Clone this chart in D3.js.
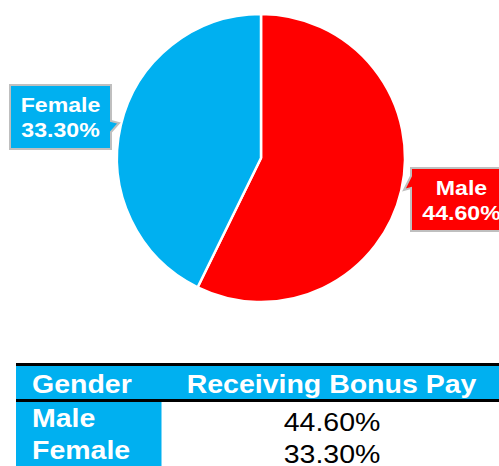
<!DOCTYPE html>
<html>
<head>
<meta charset="utf-8">
<script src="https://cdn.jsdelivr.net/npm/d3@7"></script>
<style>
  html, body { margin: 0; padding: 0; background: #fff; }
  svg { display: block; font-family: "Liberation Sans", Arial, sans-serif; }
</style>
</head>
<body>
<div id="chart"></div>
<script>
const GENDERS = ["Male", "Female"];
const BONUS_PCT = [44.6, 33.3];
const COLORS = ["#FF0000", "#00B0F0"];
const HEADERS = ["Gender", "Receiving Bonus Pay"];

const width = 499;
const height = 466;
const fmt = (v) => d3.format(".2f")(v) + "%";

const data = GENDERS.map((g, i) => ({ gender: g, value: BONUS_PCT[i], color: COLORS[i] }));

const svg = d3.select("#chart")
  .append("svg")
  .attr("width", width)
  .attr("height", height);

// pie
const cx = 261, cy = 158, radius = 144;
const pie = d3.pie().sort(null).value((d) => d.value);
const arc = d3.arc().innerRadius(0).outerRadius(radius);
const arcs = pie(data);

const pieG = svg.append("g").attr("transform", `translate(${cx},${cy})`);
pieG.selectAll("path")
  .data(arcs)
  .join("path")
  .attr("d", arc)
  .attr("fill", (d) => d.data.color)
  .attr("stroke", "#fff")
  .attr("stroke-width", 2.5)
  .attr("stroke-linejoin", "round");

// callout labels (box positions in page coords, pointer toward slice)
const callouts = [
  { x: 411, y: 168, w: 101, h: 63, side: "left", base: [176, 188], tip: [404, 190] },
  { x: 10, y: 85, w: 101, h: 64, side: "right", base: [121, 132], tip: [119, 123] }
];

const labelG = svg.append("g");
arcs.forEach((a, i) => {
  const c = callouts[i];
  let pts;
  if (c.side === "left") {
    pts = [[c.x, c.y], [c.x + c.w, c.y], [c.x + c.w, c.y + c.h], [c.x, c.y + c.h],
      [c.x, c.base[1]], c.tip, [c.x, c.base[0]]];
  } else {
    pts = [[c.x, c.y], [c.x + c.w, c.y], [c.x + c.w, c.base[0]], c.tip,
      [c.x + c.w, c.base[1]], [c.x + c.w, c.y + c.h], [c.x, c.y + c.h]];
  }
  labelG.append("path")
    .attr("d", d3.line()(pts) + "Z")
    .attr("fill", a.data.color)
    .attr("stroke", "#BFBFBF")
    .attr("stroke-width", 2);

  const mid = c.x + c.w / 2;
  [a.data.gender, fmt(a.data.value)].forEach((t, j) => {
    labelG.append("text")
      .attr("transform", `translate(${mid},${c.y + 26.5 + j * 25.5}) scale(1.1,1)`)
      .attr("text-anchor", "middle")
      .attr("fill", "#fff")
      .attr("font-weight", "bold")
      .attr("font-size", 21)
      .text(t);
  });
});

// table
const tableX = 16, tableRight = 499;
const col1Right = 161.5;
const rowY = d3.scaleBand().domain(GENDERS).range([402, 466]);
const col2Center = 331.5;
const tg = svg.append("g");

tg.append("rect").attr("x", tableX).attr("y", 363).attr("width", tableRight - tableX).attr("height", 3).attr("fill", "#000");
tg.append("rect").attr("x", tableX).attr("y", 366).attr("width", tableRight - tableX).attr("height", 33).attr("fill", "#00B0F0");
tg.append("rect").attr("x", tableX).attr("y", 399).attr("width", tableRight - tableX).attr("height", 3).attr("fill", "#000");
tg.append("rect").attr("x", tableX).attr("y", 402).attr("width", col1Right - tableX).attr("height", 64).attr("fill", "#00B0F0");

const textAt = (x, y, anchor, t, bold, fill) =>
  tg.append("text")
    .attr("transform", `translate(${x},${y}) scale(1.14,1)`)
    .attr("text-anchor", anchor)
    .attr("font-size", 25)
    .attr("font-weight", bold ? "bold" : "normal")
    .attr("fill", fill)
    .text(t);

textAt(32, 393, "start", HEADERS[0], true, "#fff");
textAt(col2Center, 393, "middle", HEADERS[1], true, "#fff");

data.forEach((d) => {
  const y0 = rowY(d.gender);
  textAt(32, y0 + 24.5, "start", d.gender, true, "#fff");
  textAt(col2Center + 0.5, y0 + 29, "middle", fmt(d.value), false, "#000");
});
</script>
</body>
</html>
